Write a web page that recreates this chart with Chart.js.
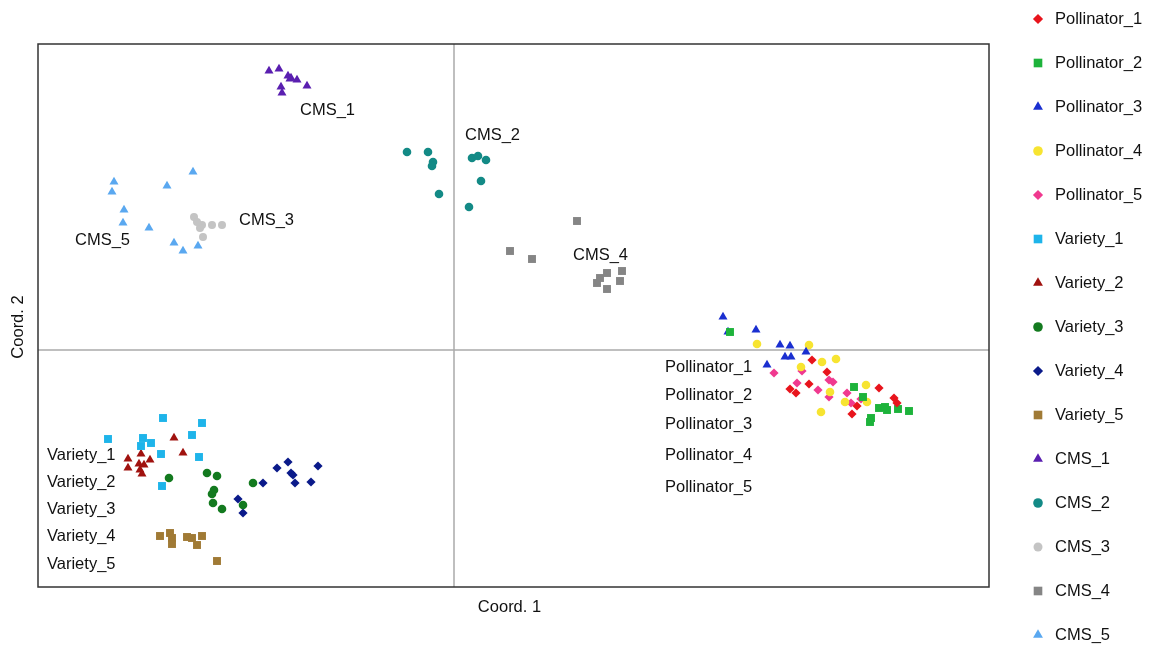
<!DOCTYPE html>
<html>
<head>
<meta charset="utf-8">
<script src="https://cdn.jsdelivr.net/npm/chart.js@4"></script>
<style>
  body { margin: 0; background: #fff; }
  #wrap { width: 1151px; height: 649px; position: relative; }
</style>
</head>
<body>
<div id="wrap"><canvas id="pcoa"></canvas></div>
<script>
// group names, shown in the legend
const groups = ['Pollinator_1', 'Pollinator_2', 'Pollinator_3', 'Pollinator_4', 'Pollinator_5',
  'Variety_1', 'Variety_2', 'Variety_3', 'Variety_4', 'Variety_5',
  'CMS_1', 'CMS_2', 'CMS_3', 'CMS_4', 'CMS_5'];

// coordinates, [coord1, coord2]
const pollinator_1 = [[35.8,-1.0],[37.3,-2.2],[33.6,-3.9],[34.2,-4.3],[35.5,-3.4],[42.5,-3.8],[40.3,-5.6],[39.8,-6.4],[44.0,-4.8],[44.3,-5.3]];
const pollinator_2 = [[27.6,1.8],[40.0,-3.7],[40.9,-4.7],[42.5,-5.8],[43.1,-5.7],[43.3,-6.0],[44.4,-5.9],[45.5,-6.1],[41.7,-6.8],[41.6,-7.2]];
const pollinator_3 = [[26.9,3.3],[27.4,1.8],[30.2,2.0],[32.6,0.5],[33.6,0.4],[33.1,-0.7],[33.7,-0.7],[35.2,-0.2],[31.3,-1.5]];
const pollinator_4 = [[30.3,0.6],[35.5,0.5],[36.8,-1.2],[38.2,-0.9],[34.7,-1.7],[41.2,-3.5],[37.6,-4.2],[39.1,-5.2],[41.3,-5.2],[36.7,-6.2]];
const pollinator_5 = [[34.8,-2.1],[32.0,-2.3],[37.5,-3.0],[37.9,-3.2],[34.3,-3.3],[36.4,-4.0],[37.5,-4.7],[39.3,-4.3],[39.7,-5.3],[40.7,-4.9]];
const variety_1 = [[-29.1,-6.8],[-25.2,-7.3],[-34.6,-8.9],[-31.1,-8.8],[-30.3,-9.3],[-31.3,-9.6],[-26.2,-8.5],[-29.3,-10.4],[-25.5,-10.7],[-29.2,-13.6]];
const variety_2 = [[-28.0,-8.8],[-27.1,-10.3],[-31.3,-10.4],[-32.6,-10.9],[-30.4,-11.0],[-32.6,-11.8],[-31.5,-11.4],[-31.0,-11.5],[-31.4,-12.0],[-31.2,-12.4]];
const variety_3 = [[-28.5,-12.8],[-24.7,-12.3],[-23.7,-12.6],[-24.0,-14.0],[-24.2,-14.4],[-24.1,-15.3],[-23.2,-15.9],[-20.1,-13.3],[-21.1,-15.5]];
const variety_4 = [[-19.1,-13.3],[-17.7,-11.8],[-16.6,-11.2],[-16.3,-12.3],[-16.1,-12.5],[-15.9,-13.3],[-13.6,-11.6],[-14.3,-13.2],[-21.6,-14.9],[-21.1,-16.3]];
const variety_5 = [[-29.4,-18.6],[-28.4,-18.3],[-28.2,-18.8],[-28.2,-19.4],[-26.7,-18.7],[-26.2,-18.8],[-25.7,-19.5],[-25.2,-18.6],[-23.7,-21.1]];
const cms_1 = [[-18.5,27.9],[-17.5,28.1],[-16.6,27.4],[-16.3,27.2],[-15.7,27.0],[-14.7,26.4],[-17.3,26.3],[-17.2,25.7],[-16.4,27.1]];
const cms_2 = [[-4.7,19.8],[-2.6,19.8],[-2.1,18.8],[-2.2,18.4],[-1.5,15.6],[1.8,19.2],[2.4,19.4],[3.2,19.0],[2.7,16.9],[1.5,14.3]];
const cms_3 = [[-26.0,13.3],[-25.2,12.5],[-25.4,12.2],[-24.2,12.5],[-23.2,12.5],[-25.1,11.3],[-25.7,12.8]];
const cms_4 = [[12.3,12.9],[5.6,9.9],[7.8,9.1],[15.3,7.7],[16.8,7.9],[16.6,6.9],[14.6,7.2],[14.3,6.7],[15.3,6.1]];
const cms_5 = [[-34.0,16.8],[-34.2,15.8],[-33.0,14.0],[-33.1,12.7],[-30.5,12.2],[-28.7,16.4],[-26.1,17.8],[-28.0,10.7],[-27.1,9.9],[-25.6,10.4]];

// text labels inside the plot: name, coord1, coord2
const plot_labels = [
  ['CMS_1', -15.4, 24.0], ['CMS_2', 1.1, 21.5], ['CMS_3', -21.5, 13.0], ['CMS_5', -37.9, 11.0], ['CMS_4', 11.9, 9.5],
  ['Pollinator_1', 21.1, -1.7], ['Pollinator_2', 21.1, -4.5], ['Pollinator_3', 21.1, -7.4], ['Pollinator_4', 21.1, -10.5], ['Pollinator_5', 21.1, -13.7],
  ['Variety_1', -40.7, -10.5], ['Variety_2', -40.7, -13.2], ['Variety_3', -40.7, -15.9], ['Variety_4', -40.7, -18.6], ['Variety_5', -40.7, -21.4]
];

const all_points = [pollinator_1, pollinator_2, pollinator_3, pollinator_4, pollinator_5,
  variety_1, variety_2, variety_3, variety_4, variety_5, cms_1, cms_2, cms_3, cms_4, cms_5];

const colors = ['#e8141c', '#1db33b', '#1a2fd0', '#f7e431', '#f0398f',
  '#1eb4ea', '#a0120f', '#137a1f', '#0a1a8a', '#a07a35',
  '#5a1fb0', '#138a86', '#c4c4c4', '#858585', '#5aa8f0'];
const shapes = ['rectRot', 'rect', 'triangle', 'circle', 'rectRot',
  'rect', 'triangle', 'circle', 'rectRot', 'rect',
  'triangle', 'circle', 'circle', 'rect', 'triangle'];
const sizes = [4.6, 5.6, 5.2, 4.3, 4.6, 5.6, 5.2, 4.3, 4.6, 5.6, 5.2, 4.3, 4, 5.6, 5.2];

const FONT = '"Liberation Sans", Arial, Helvetica, sans-serif';

const datasets = groups.map((g, i) => ({
  label: g,
  data: all_points[i].map(p => ({x: p[0], y: p[1]})),
  pointStyle: shapes[i],
  pointRadius: sizes[i],
  pointHoverRadius: sizes[i],
  backgroundColor: colors[i],
  borderColor: colors[i],
  borderWidth: 0
}));

const decor = {
  id: 'decor',
  beforeDatasetsDraw(chart) {
    const {ctx, chartArea: a, scales: {x, y}} = chart;
    ctx.save();
    ctx.strokeStyle = '#aaaaaa';
    ctx.lineWidth = 1.5;
    const x0 = x.getPixelForValue(0), y0 = y.getPixelForValue(0);
    ctx.beginPath();
    ctx.moveTo(x0, a.top); ctx.lineTo(x0, a.bottom);
    ctx.moveTo(a.left, y0); ctx.lineTo(a.right, y0);
    ctx.stroke();
    ctx.restore();
  },
  afterDraw(chart) {
    const {ctx, chartArea: a, scales: {x, y}} = chart;
    ctx.save();
    // frame
    ctx.strokeStyle = '#333333';
    ctx.lineWidth = 1.5;
    ctx.strokeRect(a.left, a.top, a.right - a.left, a.bottom - a.top);

    ctx.fillStyle = '#111';
    ctx.font = '16.5px ' + FONT;
    ctx.textBaseline = 'middle';
    ctx.textAlign = 'left';
    plot_labels.forEach(l => {
      ctx.fillText(l[0], x.getPixelForValue(l[1]), y.getPixelForValue(l[2]));
    });

    // axis titles
    ctx.textAlign = 'center';
    ctx.fillText('Coord. 1', (a.left + a.right) / 2 - 4, 607);
    ctx.save();
    ctx.translate(18, 327);
    ctx.rotate(-Math.PI / 2);
    ctx.fillText('Coord. 2', 0, 0);
    ctx.restore();

    // legend
    ctx.textAlign = 'left';
    chart.data.datasets.forEach((ds, i) => {
      const ly = 19 + i * 44;
      ctx.fillStyle = ds.backgroundColor;
      Chart.helpers.drawPoint(ctx, {pointStyle: ds.pointStyle, radius: ds.pointRadius + 0.5, rotation: 0, borderWidth: 0}, 1038, ly);
      ctx.fillStyle = '#111';
      ctx.fillText(ds.label, 1055, ly);
    });
    ctx.restore();
  }
};

new Chart(document.getElementById('pcoa'), {
  type: 'scatter',
  data: { datasets: datasets },
  options: {
    responsive: true,
    maintainAspectRatio: false,
    animation: false,
    events: [],
    layout: { padding: { top: 44, right: 162, left: 0, bottom: 0 } },
    plugins: { legend: { display: false }, tooltip: { enabled: false } },
    scales: {
      x: {
        min: -41.6, max: 53.5,
        ticks: { display: false },
        grid: { display: false },
        border: { display: false },
        afterFit(scale) { scale.height = 62; }
      },
      y: {
        min: -23.7, max: 30.6,
        ticks: { display: false },
        grid: { display: false },
        border: { display: false },
        afterFit(scale) { scale.width = 38; }
      }
    }
  },
  plugins: [decor]
});
</script>
</body>
</html>
